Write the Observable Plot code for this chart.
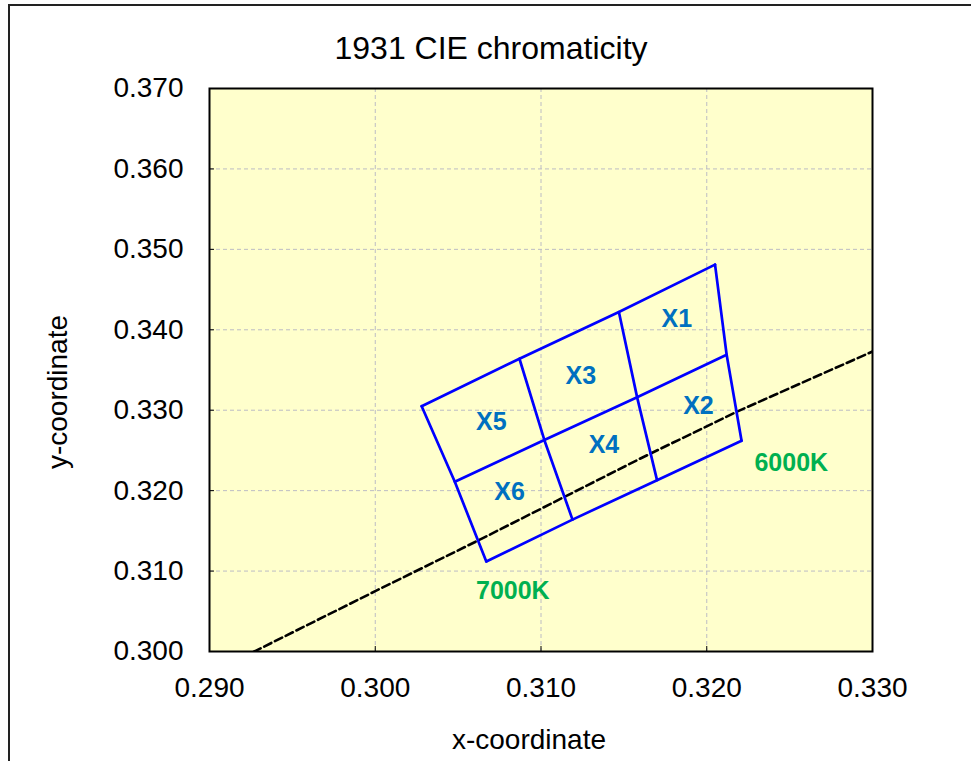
<!DOCTYPE html>
<html>
<head>
<meta charset="utf-8">
<script src="https://cdn.jsdelivr.net/npm/d3@7"></script>
<script src="https://cdn.jsdelivr.net/npm/@observablehq/plot@0.6"></script>
<style>
  html, body { margin: 0; padding: 0; background: #fff; }
  #wrap { position: relative; width: 971px; height: 761px; overflow: hidden; }
  #border { position: absolute; left: 8px; top: 4px; width: 1000px; height: 800px;
            border-top: 2px solid #222; border-left: 2px solid #222; pointer-events: none; }
  #chart { position: absolute; left: 0; top: 0; }
</style>
</head>
<body>
<div id="wrap"><div id="border"></div><div id="chart"></div></div>
<script>
// Axis ticks
const xTicks = [0.290, 0.300, 0.310, 0.320, 0.330];
const yTicks = [0.300, 0.310, 0.320, 0.330, 0.340, 0.350, 0.360, 0.370];

// Quadrangle grid vertices (rows: top, middle, bottom; columns left -> right)
const quadX = [
  [0.3028, 0.3087, 0.3147, 0.3205],
  [0.3048, 0.3102, 0.3158, 0.3212],
  [0.3067, 0.3119, 0.3170, 0.3221]
];
const quadY = [
  [0.3305, 0.3364, 0.3422, 0.3481],
  [0.3211, 0.3263, 0.3316, 0.3369],
  [0.3112, 0.3164, 0.3213, 0.3262]
];

// Quadrangle labels
const quadNames = ["X1", "X2", "X3", "X4", "X5", "X6"];
const quadLabelX = [0.3182, 0.3195, 0.3124, 0.3138, 0.3070, 0.3081];
const quadLabelY = [0.3414, 0.3305, 0.3343, 0.3257, 0.3285, 0.3198];

// CCT labels
const cctNames = ["6000K", "7000K"];
const cctX = [0.3251, 0.3083];
const cctY = [0.3234, 0.3075];

// Planckian locus (dashed)
const locusX = [0.2920, 0.2927, 0.3000, 0.3064, 0.3160, 0.3218, 0.3300, 0.3310];
const locusY = [0.2993, 0.3000, 0.3075, 0.3140, 0.3240, 0.3298, 0.3373, 0.3382];

const title = "1931 CIE chromaticity";
const xLabel = "x-coordinate";
const yLabel = "y-coordinate";

// Build tables
const locus = locusX.map((x, i) => ({x, y: locusY[i]}));
const segs = [];
quadX.forEach((row, r) => row.forEach((x, c) => segs.push({line: "r" + r, x, y: quadY[r][c], k: c})));
for (let c = 0; c < 4; c++) for (let r = 0; r < 3; r++) segs.push({line: "c" + c, x: quadX[r][c], y: quadY[r][c], k: r});
const qLabels = quadNames.map((t, i) => ({t, x: quadLabelX[i], y: quadLabelY[i]}));
const cLabels = cctNames.map((t, i) => ({t, x: cctX[i], y: cctY[i]}));

const font = "'Liberation Sans', Arial, Helvetica, sans-serif";

const chart = Plot.plot({
  width: 971,
  height: 761,
  marginLeft: 209,
  marginRight: 99,
  marginTop: 88,
  marginBottom: 110,
  style: {fontFamily: font, background: "transparent", color: "#000"},
  x: {domain: [0.290, 0.330]},
  y: {domain: [0.300, 0.370]},
  marks: [
    Plot.frame({fill: "#ffffcc"}),
    Plot.gridX(xTicks, {stroke: "#bcbcc4", strokeOpacity: 1, strokeDasharray: "4,3", strokeWidth: 1}),
    Plot.gridY(yTicks, {stroke: "#bcbcc4", strokeOpacity: 1, strokeDasharray: "4,3", strokeWidth: 1}),
    Plot.line(locus, {x: "x", y: "y", stroke: "#000", strokeWidth: 2.6, strokeDasharray: "8,4", clip: true}),
    Plot.line(segs, {x: "x", y: "y", z: "line", stroke: "#0000ff", strokeWidth: 2.7}),
    Plot.text(qLabels, {x: "x", y: "y", text: "t", fill: "#0070c0", fontSize: 25, fontWeight: "bold"}),
    Plot.text(cLabels, {x: "x", y: "y", text: "t", fill: "#00b050", fontSize: 25, fontWeight: "bold"}),
    Plot.frame({stroke: "#000", strokeWidth: 2}),
    Plot.axisX({ticks: xTicks, tickFormat: d3.format(".3f"), tickSize: -5, tickPadding: 31, fontSize: 28, label: null}),
    Plot.axisY({ticks: yTicks, tickFormat: d3.format(".3f"), tickSize: -5, tickPadding: 31, fontSize: 28, label: null}),
    Plot.text([title], {text: d => d, frameAnchor: "top", textAnchor: "middle", lineAnchor: "middle", dx: -50, dy: -40, fontSize: 32}),
    Plot.text([xLabel], {text: d => d, frameAnchor: "bottom", textAnchor: "middle", lineAnchor: "middle", dx: -12, dy: 89, fontSize: 28}),
    Plot.text([yLabel], {text: d => d, frameAnchor: "left", textAnchor: "middle", lineAnchor: "middle", dx: -151, dy: 22, rotate: -90, fontSize: 28})
  ]
});
document.getElementById("chart").appendChild(chart);
</script>
</body>
</html>
